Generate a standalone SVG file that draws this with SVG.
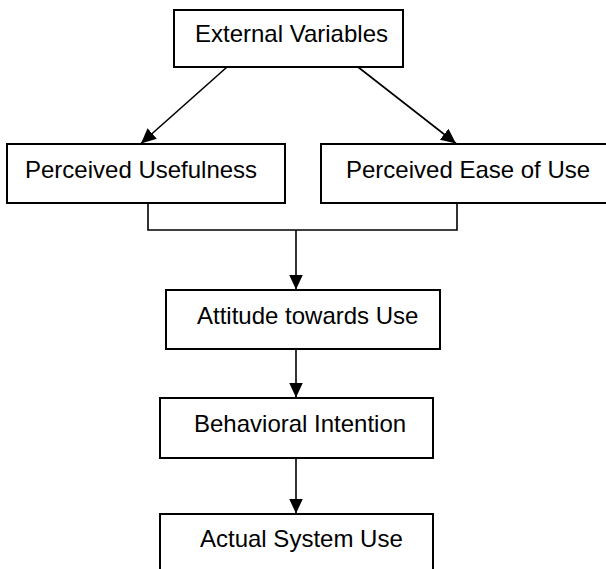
<svg xmlns="http://www.w3.org/2000/svg" width="606" height="569" viewBox="0 0 606 569">
<style>
.box{fill:#fff;stroke:#000;stroke-width:2}
.lbl{font-family:"Liberation Sans",Arial,sans-serif;font-size:24px;fill:#000}
.conn{fill:none;stroke:#000;stroke-width:1.6}
</style>
<defs>
<marker id="ah" markerUnits="userSpaceOnUse" markerWidth="16" markerHeight="14" refX="15" refY="7" orient="auto">
<path d="M0,0 L15,7 L0,14 Z" fill="#000"/>
</marker>
</defs>
<rect width="606" height="569" fill="#fff"/>
<g id="connectors">
<line class="conn" x1="227" y1="67" x2="141" y2="143.5" marker-end="url(#ah)"/>
<line class="conn" x1="358" y1="67" x2="456" y2="143.5" marker-end="url(#ah)"/>
<path class="conn" d="M148,203 V230 H457 V203"/>
<line class="conn" x1="296" y1="230" x2="296" y2="289.5" marker-end="url(#ah)"/>
<line class="conn" x1="296" y1="349" x2="296" y2="397.5" marker-end="url(#ah)"/>
<line class="conn" x1="296" y1="458" x2="296" y2="513.5" marker-end="url(#ah)"/>
</g>
<g id="external-variables">
<rect class="box" x="174" y="10" width="229" height="57"/>
<text class="lbl" x="195" y="42">External Variables</text>
</g>
<g id="perceived-usefulness">
<rect class="box" x="7" y="144" width="278" height="59"/>
<text class="lbl" x="25" y="178">Perceived Usefulness</text>
</g>
<g id="perceived-ease-of-use">
<rect class="box" x="321" y="144" width="290" height="59"/>
<text class="lbl" x="346" y="178">Perceived Ease of Use</text>
</g>
<g id="attitude-towards-use">
<rect class="box" x="166" y="290" width="274" height="59"/>
<text class="lbl" x="197" y="324">Attitude towards Use</text>
</g>
<g id="behavioral-intention">
<rect class="box" x="160" y="398" width="273" height="60"/>
<text class="lbl" x="194" y="432">Behavioral Intention</text>
</g>
<g id="actual-system-use">
<rect class="box" x="160" y="514" width="273" height="80"/>
<text class="lbl" x="200" y="547">Actual System Use</text>
</g>
</svg>
